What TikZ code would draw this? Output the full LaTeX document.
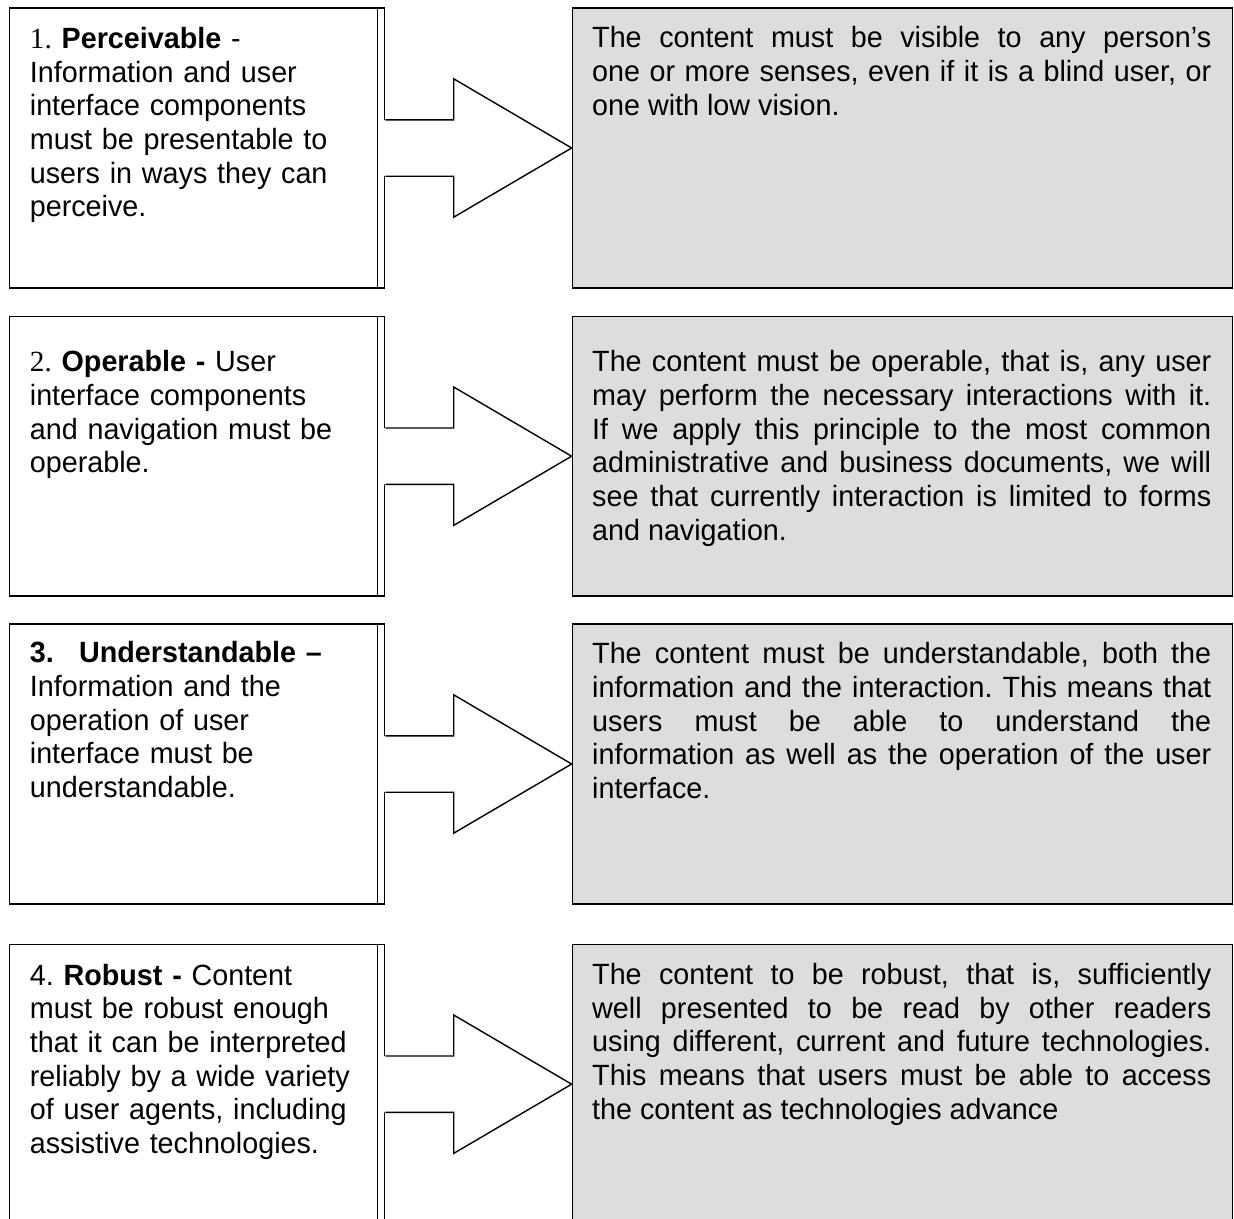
\documentclass[tikz,border=0pt]{standalone}
\usepackage{fontspec}
\setmainfont{Liberation Sans}[Ligatures=NoCommon, FakeStretch=0.98]
\newfontfamily\timesf{Liberation Serif}
\usetikzlibrary{calc}
\definecolor{boxgray}{RGB}{221,221,221}
\frenchspacing
\tikzset{
  frame/.style={line width=1.4pt},
  leftbox/.style={frame, draw=black, rectangle, anchor=north west, inner sep=0pt,
    minimum width=375.3pt, minimum height=280pt},
  graybox/.style={frame, draw=black, fill=boxgray, rectangle, anchor=north west, inner sep=0pt,
    minimum width=660.4pt, minimum height=280pt},
  lefttext/.style={anchor=base west, align=left, inner sep=0pt, text width=345pt,
    font=\fontsize{29.3}{33.7}\selectfont},
  graytext/.style={anchor=base west, align=justify, inner sep=0pt, text width=619pt,
    font=\fontsize{29.3}{33.7}\selectfont},
  arrowline/.style={line width=1.4pt, line join=miter},
}
\newcommand\bigarrow[2]{%
  \fill[white] ($(#1.east)+(-1.6,-28.2)$) -- ($(#1.east)+(68.3,-28.2)$) -- ($(#1.east)+(68.3,-69.2)$)
     -- (#2.west) -- ($(#1.east)+(68.3,69.2)$) -- ($(#1.east)+(68.3,28.2)$) -- ($(#1.east)+(-1.6,28.2)$) -- cycle;
  \draw[arrowline] ($(#1.east)+(0,-28.2)$) -- ($(#1.east)+(68.3,-28.2)$) -- ($(#1.east)+(68.3,-69.2)$)
     -- (#2.west) -- ($(#1.east)+(68.3,69.2)$) -- ($(#1.east)+(68.3,28.2)$) -- ($(#1.east)+(0,28.2)$);
}
\newcommand\innerline[1]{%
  \draw[frame] ($(#1.north east)+(-8,0)$) -- ($(#1.south east)+(-8,0)$);
}
\begin{document}
\begin{tikzpicture}[x=1pt,y=-1pt]
\clip (0,0) rectangle (1234,1218);
\fill[white] (0,0) rectangle (1234,1218);

% row 1
\node[leftbox] (L1) at (8.7,7.3) {};
\node[graybox] (G1) at (571.6,7.3) {};
\innerline{L1}
\bigarrow{L1}{G1}
\node[lefttext] (T1) at ($(L1.north west)+(21,41)$) {%
{\timesf 1.} \textbf{Perceivable} -\\
Information and user\\
interface components\\
must be presentable to\\
users in ways they can\\
perceive.};
\node[graytext] (D1) at ($(G1.north west)+(20.4,40.5)$) {%
The content must be visible to any person’s\linebreak
one or more senses, even if it is a blind user, or\linebreak
one with low vision.};

% row 2
\node[leftbox, minimum height=279.6pt] (L2) at (8.7,315.7) {};
\node[graybox, minimum height=279.6pt] (G2) at (571.6,315.7) {};
\innerline{L2}
\bigarrow{L2}{G2}
\node[lefttext] (T2) at ($(L2.north west)+(21,56)$) {%
{\timesf 2.} \textbf{Operable -} User\\
interface components\\
and navigation must be\\
operable.};
\node[graytext] (D2) at ($(G2.north west)+(20.4,56)$) {%
The content must be operable, that is, any user\linebreak
may perform the necessary interactions with it.\linebreak
If we apply this principle to the most common\linebreak
administrative and business documents, we will\linebreak
see that currently interaction is limited to forms\linebreak
and navigation.};

% row 3
\node[leftbox] (L3) at (8.7,623.3) {};
\node[graybox] (G3) at (571.6,623.3) {};
\innerline{L3}
\bigarrow{L3}{G3}
\node[lefttext] (T3) at ($(L3.north west)+(21,39.5)$) {%
\textbf{\makebox[49.3pt][l]{3.}Understandable –}\\
Information and the\\
operation of user\\
interface must be\\
understandable.};
\node[graytext] (D3) at ($(G3.north west)+(20.4,40.5)$) {%
The content must be understandable, both the\linebreak
information and the interaction. This means that\linebreak
users must be able to understand the\linebreak
information as well as the operation of the user\linebreak
interface.};

% row 4
\node[leftbox, minimum height=279pt] (L4) at (8.7,944) {};
\node[graybox, minimum height=279pt] (G4) at (571.6,944) {};
\innerline{L4}
\bigarrow{L4}{G4}
\node[lefttext] (T4) at ($(L4.north west)+(21,41)$) {%
4. \textbf{Robust -} Content\\
must be robust enough\\
that it can be interpreted\\
reliably by a wide variety\\
of user agents, including\\
assistive technologies.};
\node[graytext] (D4) at ($(G4.north west)+(20.4,40.5)$) {%
The content to be robust, that is, sufficiently\linebreak
well presented to be read by other readers\linebreak
using dif\kern0ptferent, current and future technologies.\linebreak
This means that users must be able to access\linebreak
the content as technologies advance};
\end{tikzpicture}
\end{document}
